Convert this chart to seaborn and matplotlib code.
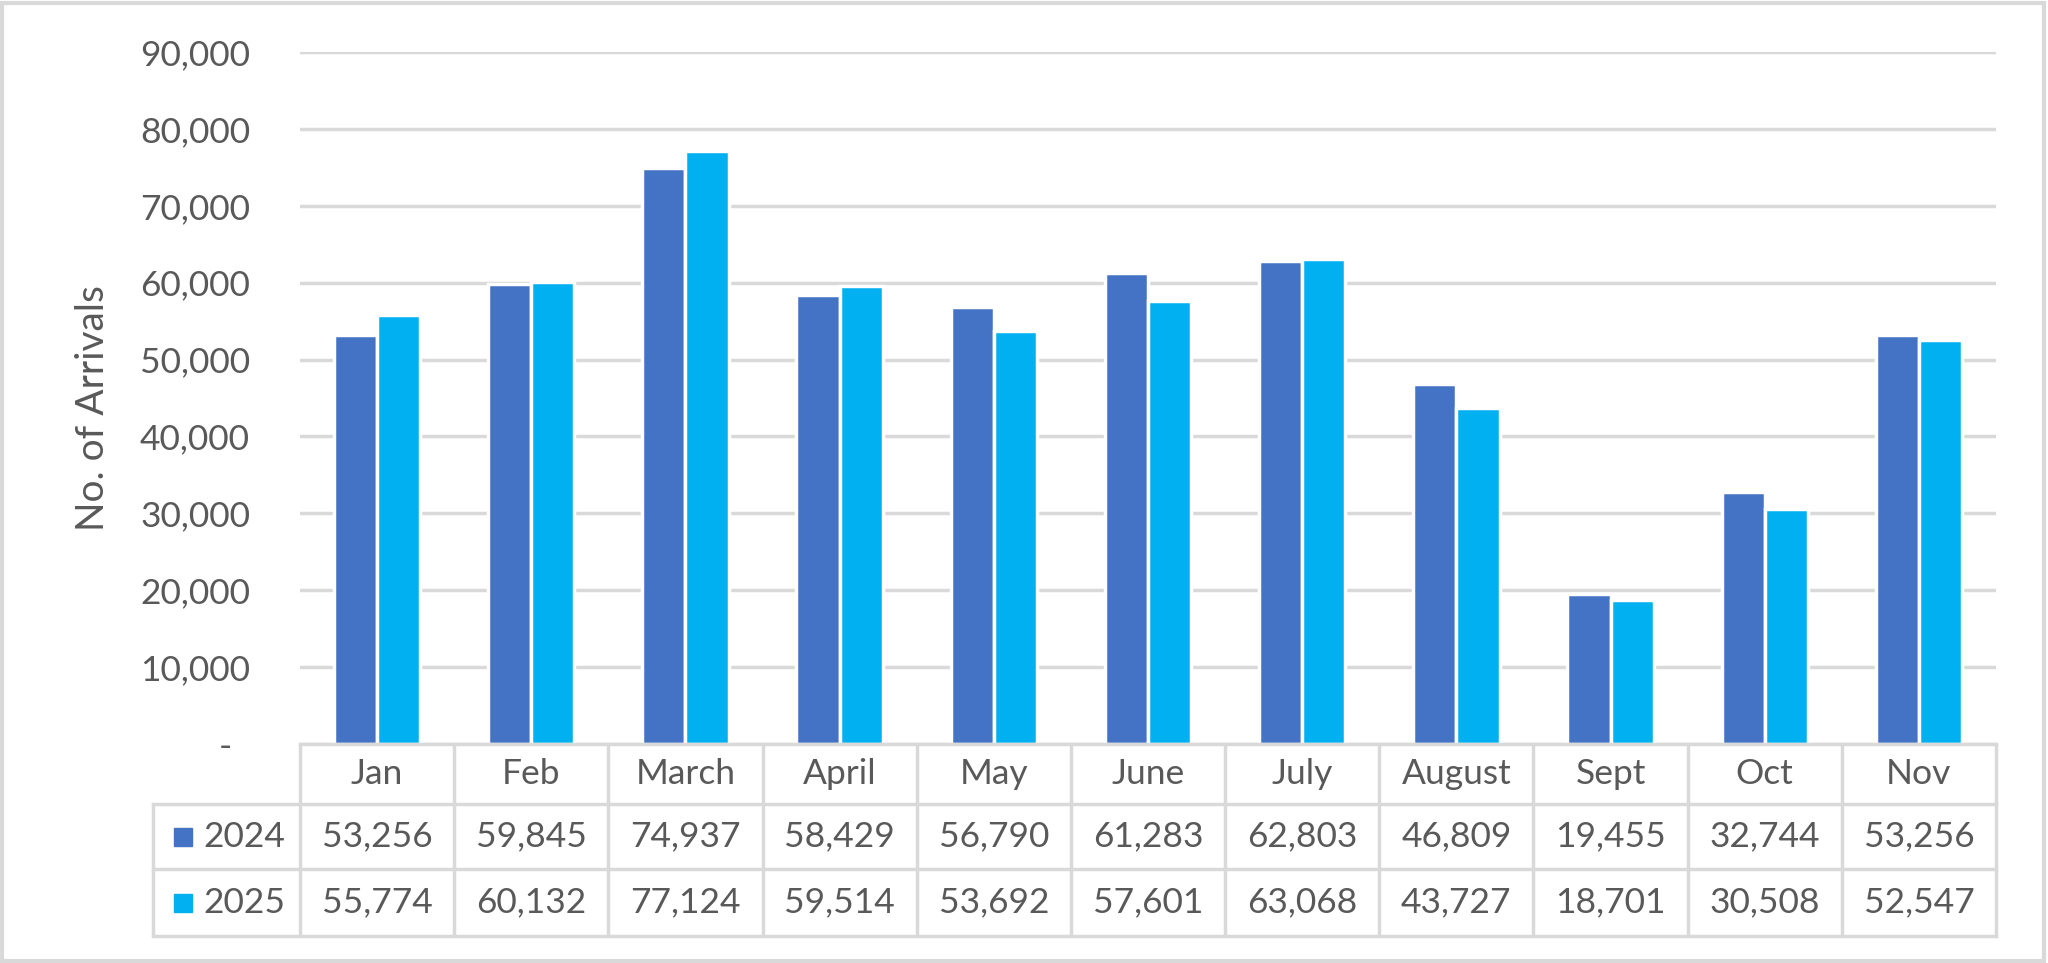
import numpy as np
import pandas as pd
import matplotlib
matplotlib.use("Agg")
import matplotlib.pyplot as plt
import matplotlib.transforms as mtransforms
from matplotlib.patches import Rectangle
from matplotlib.ticker import FuncFormatter
import seaborn as sns

# data
months = ["Jan", "Feb", "March", "April", "May", "June", "July",
          "August", "Sept", "Oct", "Nov"]
arrivals_2024 = [53256, 59845, 74937, 58429, 56790, 61283, 62803,
                 46809, 19455, 32744, 53256]
arrivals_2025 = [55774, 60132, 77124, 59514, 53692, 57601, 63068,
                 43727, 18701, 30508, 52547]
years = ["2024", "2025"]
colors = {"2024": "#4472C4", "2025": "#00B0F0"}
yticks = list(range(0, 90001, 10000))

df = pd.DataFrame({
    "month": months * 2,
    "year": ["2024"] * len(months) + ["2025"] * len(months),
    "arrivals": arrivals_2024 + arrivals_2025,
})

sns.set_theme(style="white")
plt.rcParams["font.family"] = ["Lato", "DejaVu Sans"]
TXT = "#595959"
GRID = "#D9D9D9"
FS = 25.5

W, H = 2048, 963
fig = plt.figure(figsize=(W / 100, H / 100), dpi=100)
fig.patch.set_facecolor("white")

# pixel helpers
def fx(px): return px / W
def fy(py): return 1 - py / H

top_px, bot_px = 52, 744
left_px, right_px = 300, 1996
ax = fig.add_axes([fx(left_px), fy(bot_px), fx(right_px) - fx(left_px),
                   (bot_px - top_px) / H])

sns.barplot(data=df, x="month", y="arrivals", hue="year", order=months,
            hue_order=years, palette=colors, width=0.56, ax=ax,
            edgecolor="white", linewidth=2.5, legend=False, saturation=1)

ax.set_xlim(-0.5, len(months) - 0.5)
ax.set_ylim(0, 90000)
ax.set_yticks(yticks)
ax.yaxis.set_major_formatter(FuncFormatter(
    lambda v, p: "-  " if v == 0 else f"{int(v):,}"))
ax.tick_params(axis="y", labelsize=FS, labelcolor=TXT, length=0, pad=36)
ax.set_xticks([])
ax.set_xlabel("")
ax.set_ylabel("No. of Arrivals", fontsize=28, color=TXT)
ax.yaxis.set_label_coords((111 - left_px) / (right_px - left_px),
                          (bot_px - 408) / (bot_px - top_px))
ax.grid(axis="y", color=GRID, linewidth=2.5)
ax.set_axisbelow(True)
for s in ax.spines.values():
    s.set_visible(False)

# data table below the plot
blend = mtransforms.blended_transform_factory(ax.transData, fig.transFigure)
row_edges = [744, 804, 869, 936]
lab_left = 153
lw = 2.5

def hline(py, x0_fig, x1_data):
    xs_left = fig.transFigure.transform((x0_fig, 0))[0]
    x0_data = ax.transData.inverted().transform((xs_left, 0))[0]
    ax.plot([x0_data, x1_data], [fy(py), fy(py)], transform=blend,
            color=GRID, lw=lw, clip_on=False, solid_capstyle="projecting")

hline(row_edges[0], fx(left_px), len(months) - 0.5)
for py in row_edges[1:]:
    hline(py, fx(lab_left), len(months) - 0.5)

for i in range(len(months) + 1):
    xb = i - 0.5
    ax.plot([xb, xb], [fy(row_edges[0]), fy(row_edges[-1])], transform=blend,
            color=GRID, lw=lw, clip_on=False)
fig.add_artist(plt.Line2D([fx(lab_left), fx(lab_left)],
                          [fy(row_edges[1]), fy(row_edges[-1])],
                          color=GRID, lw=lw))

def mid(a, b): return fy((a + b) / 2)

for i, m in enumerate(months):
    ax.text(i, mid(row_edges[0], row_edges[1]), m, transform=blend,
            ha="center", va="center", fontsize=FS, color=TXT)
    ax.text(i, mid(row_edges[1], row_edges[2]), f"{arrivals_2024[i]:,}",
            transform=blend, ha="center", va="center", fontsize=FS, color=TXT)
    ax.text(i, mid(row_edges[2], row_edges[3]), f"{arrivals_2025[i]:,}",
            transform=blend, ha="center", va="center", fontsize=FS, color=TXT)

for r, yr in enumerate(years):
    yc = (row_edges[r + 1] + row_edges[r + 2]) / 2
    sq = 18
    fig.add_artist(Rectangle((fx(174), fy(yc + sq / 2)), sq / W, sq / H,
                             transform=fig.transFigure, color=colors[yr]))
    fig.text(fx(203), fy(yc), yr, ha="left", va="center", fontsize=FS,
             color=TXT)

# outer chart border
fig.add_artist(Rectangle((0.001, 0.002), 0.997, 0.995,
                         transform=fig.transFigure, fill=False,
                         edgecolor=GRID, lw=3))

fig.savefig("out.png", dpi=100, facecolor="white")
